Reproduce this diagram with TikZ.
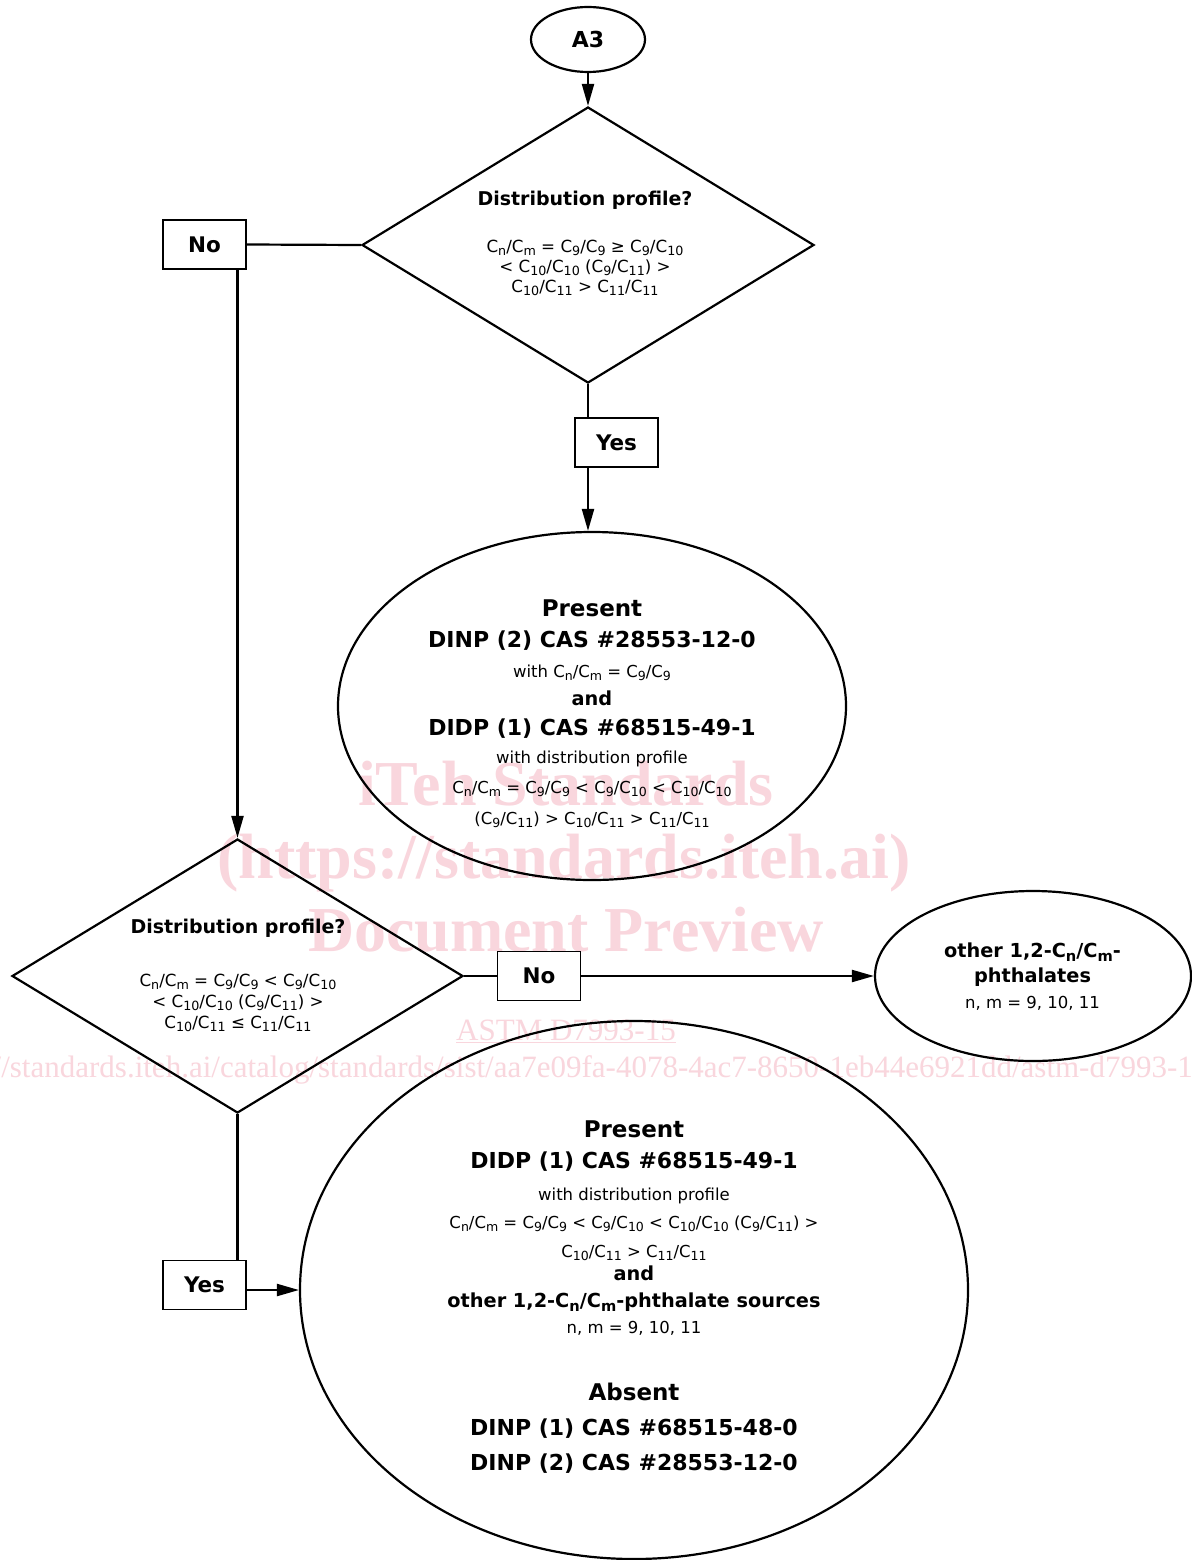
\documentclass[tikz,border=0pt]{standalone}
\usepackage{fontspec}
\usepackage{graphicx}
\setmainfont{DejaVu Sans}
\newfontfamily\wmfont{Liberation Serif}
\usetikzlibrary{shapes.geometric,arrows.meta}
\newcommand{\sbs}[1]{\raisebox{-0.22em}{\scalebox{0.76}{#1}}}
\definecolor{wm}{RGB}{249,214,221}
\begin{document}
\begin{tikzpicture}[x=1pt,y=-1pt,
  shp/.style={draw, line width=2.2pt, inner sep=0pt},
  lbox/.style={shp, rectangle, minimum width=83pt, minimum height=49pt, line width=1.9pt,
     font=\fontsize{21.5}{24}\selectfont\bfseries},
  arr/.style={line width=2.2pt, -{Triangle[length=22pt,width=12pt]}},
  con/.style={line width=2.2pt},
  hd/.style={anchor=base, inner sep=0pt, font=\fontsize{23}{26}\selectfont\bfseries},
  cas/.style={anchor=base, inner sep=0pt, font=\fontsize{22}{26}\selectfont\bfseries},
  bl/.style={anchor=base, inner sep=0pt, font=\fontsize{19.3}{23}\selectfont\bfseries},
  tx/.style={anchor=base, inner sep=0pt, font=\fontsize{16.5}{20}\selectfont},
  qt/.style={anchor=base, inner sep=0pt, font=\fontsize{19}{22}\selectfont\bfseries},
  qx/.style={anchor=base, inner sep=0pt, font=\fontsize{16.7}{20}\selectfont},
  wmb/.style={anchor=base, inner sep=0pt, text=wm, font=\fontsize{64}{70}\selectfont\wmfont\bfseries},
  wmr/.style={anchor=base, inner sep=0pt, text=wm, font=\fontsize{31}{34}\selectfont\wmfont}
]
\useasboundingbox (0,0) rectangle (1191,1560);
\fill[white] (0,0) rectangle (1191,1560);

% watermark
\node[wmb] (w1) at (566,805) {iTeh Standards};
\node[wmb] (w2) at (564,878) {(https://standards.iteh.ai)};
\node[wmb] (w3) at (566,951) {Document Preview};
\node[wmr] (w4) at (566,1040) {\underline{ASTM D7993-15}};
\node[wmr] (w5) at (566,1077) {https://standards.iteh.ai/catalog/standards/sist/aa7e09fa-4078-4ac7-8650-1eb44e6921dd/astm-d7993-15};

% shapes
\node[shp, ellipse, minimum width=114pt, minimum height=65pt,
      font=\fontsize{22}{24}\selectfont\bfseries] (a3) at (588,39.5) {A3};
\node[shp, diamond, minimum width=452pt, minimum height=276pt] (d1) at (588,245) {};
\node[lbox] (no1) at (204.5,244.5) {No};
\node[lbox] (yes1) at (616.5,442.5) {Yes};
\node[shp, ellipse, minimum width=508pt, minimum height=348pt] (e1) at (592,706) {};
\node[shp, diamond, minimum width=451pt, minimum height=274pt] (d2) at (237.5,976) {};
\node[lbox] (no2) at (539,976) {No};
\node[shp, ellipse, minimum width=316pt, minimum height=170pt] (e2) at (1033,976) {};
\node[lbox] (yes2) at (204.5,1285) {Yes};
\node[shp, ellipse, minimum width=668pt, minimum height=538pt] (e3) at (634,1290) {};

% connectors
\draw[arr] (a3.south) -- (d1.north);
\draw[con] (d1.west) -- (no1.east);
\draw[arr] (no1.south -| d2.north) -- (d2.north);
\draw[con] (d1.south) -- (d1.south |- yes1.north);
\draw[arr] (d1.south |- yes1.south) -- (d1.south |- e1.north);
\draw[con] (d2.east) -- (no2.west);
\draw[arr] (no2.east) -- (e2.west);
\draw[con] (d2.south) -- (d2.south |- yes2.north);
\draw[arr] (yes2.east |- e3.west) -- (e3.west);

% diamond 1 text
\node[qt] (q1a) at (585,205) {Distribution profile?};
\node[qx] (q1b) at (585,252) {C\sbs{n}/C\sbs{m} = C\sbs{9}/C\sbs{9} ≥ C\sbs{9}/C\sbs{10}};
\node[qx] (q1c) at (585,272) {< C\sbs{10}/C\sbs{10} (C\sbs{9}/C\sbs{11}) >};
\node[qx] (q1d) at (585,292) {C\sbs{10}/C\sbs{11} > C\sbs{11}/C\sbs{11}};

% ellipse 1 text
\node[hd] (p1a) at (592,616) {Present};
\node[cas] (p1b) at (592,647) {DINP (2) CAS \#28553-12-0};
\node[tx] (p1c) at (592,677) {with C\sbs{n}/C\sbs{m} = C\sbs{9}/C\sbs{9}};
\node[bl] (p1d) at (592,705) {and};
\node[cas] (p1e) at (592,735) {DIDP (1) CAS \#68515-49-1};
\node[tx] (p1f) at (592,763) {with distribution profile};
\node[tx] (p1g) at (592,793) {C\sbs{n}/C\sbs{m} = C\sbs{9}/C\sbs{9} < C\sbs{9}/C\sbs{10} < C\sbs{10}/C\sbs{10}};
\node[tx] (p1h) at (592,824) {(C\sbs{9}/C\sbs{11}) > C\sbs{10}/C\sbs{11} > C\sbs{11}/C\sbs{11}};

% diamond 2 text
\node[qt] (q2a) at (238,933) {Distribution profile?};
\node[qx] (q2b) at (238,986) {C\sbs{n}/C\sbs{m} = C\sbs{9}/C\sbs{9} < C\sbs{9}/C\sbs{10}};
\node[qx] (q2c) at (238,1007) {< C\sbs{10}/C\sbs{10} (C\sbs{9}/C\sbs{11}) >};
\node[qx] (q2d) at (238,1028) {C\sbs{10}/C\sbs{11} ≤ C\sbs{11}/C\sbs{11}};

% ellipse 2 text
\node[bl] (o1) at (1032.5,957) {other 1,2-C\sbs{n}/C\sbs{m}-};
\node[bl] (o2) at (1032.5,982) {phthalates};
\node[tx] (o3) at (1032.5,1008) {n, m = 9, 10, 11};

% ellipse 3 text
\node[hd] (r1) at (634,1137) {Present};
\node[cas] (r2) at (634,1168) {DIDP (1) CAS \#68515-49-1};
\node[tx] (r3) at (634,1200) {with distribution profile};
\node[tx] (r4) at (634,1228) {C\sbs{n}/C\sbs{m} = C\sbs{9}/C\sbs{9} < C\sbs{9}/C\sbs{10} < C\sbs{10}/C\sbs{10} (C\sbs{9}/C\sbs{11}) >};
\node[tx] (r5) at (634,1257) {C\sbs{10}/C\sbs{11} > C\sbs{11}/C\sbs{11}};
\node[bl] (r6) at (634,1280) {and};
\node[bl] (r7) at (634,1307) {other 1,2-C\sbs{n}/C\sbs{m}-phthalate sources};
\node[tx] (r8) at (634,1333) {n, m = 9, 10, 11};
\node[hd] (r9) at (634,1400) {Absent};
\node[cas] (r10) at (634,1435) {DINP (1) CAS \#68515-48-0};
\node[cas] (r11) at (634,1470) {DINP (2) CAS \#28553-12-0};
\end{tikzpicture}
\end{document}
